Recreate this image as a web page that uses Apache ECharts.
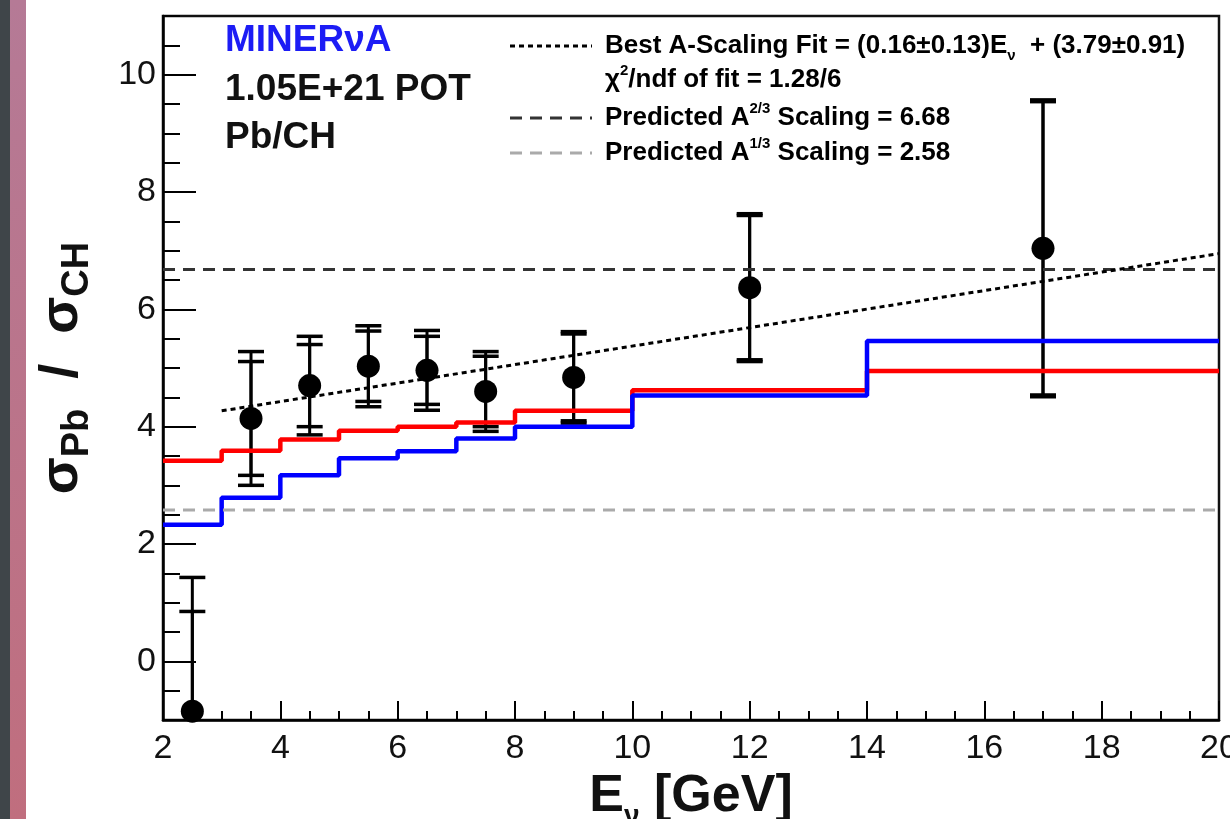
<!DOCTYPE html>
<html>
<head>
<meta charset="utf-8">
<title>Pb/CH ratio</title>
<script src="https://cdn.jsdelivr.net/npm/echarts@6/dist/echarts.min.js"></script>
<style>
  html, body { margin: 0; padding: 0; background: #fff; }
  #chart { width: 1230px; height: 819px; }
</style>
</head>
<body>
<div id="chart"></div>
<script>
// bin edges (GeV) of the two step predictions
const binEdges = [2, 3, 4, 5, 6, 7, 8, 10, 14, 20]
const redPrediction = [3.42, 3.59, 3.78, 3.93, 4.0, 4.07, 4.27, 4.62, 4.95]
const bluePrediction = [2.33, 2.79, 3.17, 3.46, 3.58, 3.8, 4.0, 4.53, 5.46]

// measured ratio
const dataEnergy = [2.5, 3.5, 4.5, 5.5, 6.5, 7.5, 9, 12, 17]
const dataRatio = [-0.85, 4.14, 4.7, 5.03, 4.96, 4.6, 4.84, 6.37, 7.04]
const statError = [1.7, 0.97, 0.7, 0.6, 0.58, 0.6, 0.74, 1.23, 2.5]
const totalError = [2.28, 1.14, 0.84, 0.69, 0.68, 0.68, 0.78, 1.26, 2.53]

// fit end points and predicted scalings
const fitEnergy = [3, 20]
const fitRatio = [4.27, 6.95]
const scaling23 = 6.68
const scaling13 = 2.58

// axes
const xRange = [2, 20]
const yRange = [-1, 11]
const yTickLabels = [0, 2, 4, 6, 8, 10]

const font = '"Liberation Sans", Arial, Helvetica, sans-serif'

function stepData(values) {
  return binEdges.map((e, i) => [e, values[Math.min(i, values.length - 1)]])
}

function errorBar(params, api) {
  const x = api.value(0)
  const y = api.value(1)
  const e = api.value(2)
  const top = api.coord([x, y + e])
  const bot = api.coord([x, y - e])
  const half = 13
  const style = { stroke: '#000', lineWidth: 3 }
  const cap = { stroke: '#000', lineWidth: 3.5 }
  return {
    type: 'group',
    children: [
      { type: 'line', shape: { x1: top[0], y1: top[1], x2: bot[0], y2: bot[1] }, style },
      { type: 'line', shape: { x1: top[0] - half, y1: top[1], x2: top[0] + half, y2: top[1] }, style: cap },
      { type: 'line', shape: { x1: bot[0] - half, y1: bot[1], x2: bot[0] + half, y2: bot[1] }, style: cap }
    ]
  }
}

const legendRich = {
  t: { fontFamily: font, fontWeight: 'bold', fontSize: 26, lineHeight: 34, color: '#111' },
  sub: { fontFamily: font, fontWeight: 'bold', fontSize: 15, lineHeight: 15, verticalAlign: 'bottom', color: '#111' },
  sup: { fontFamily: font, fontWeight: 'bold', fontSize: 15, lineHeight: 15, verticalAlign: 'top', color: '#111' }
}

const myChart = echarts.init(document.getElementById('chart'))
const option = {
  animation: false,
  backgroundColor: '#fff',
  grid: {
    left: 163,
    right: 11,
    top: 16,
    bottom: 99,
    show: true,
    borderColor: '#111',
    borderWidth: 2.5,
    outerBoundsMode: 'none'
  },
  xAxis: {
    type: 'value',
    min: xRange[0],
    max: xRange[1],
    interval: 2,
    axisLine: { onZero: false, lineStyle: { color: '#000', width: 2.5 } },
    axisTick: { inside: true, length: 19, lineStyle: { color: '#000', width: 2 } },
    minorTick: { show: true, splitNumber: 4, length: 9, lineStyle: { color: '#000', width: 2 } },
    axisLabel: { fontFamily: font, fontSize: 34, color: '#111', margin: 12 },
    splitLine: { show: false },
    name: '{m|E}{s|ν}{m| [GeV]}',
    nameLocation: 'middle',
    nameGap: 27,
    nameTextStyle: {
      rich: {
        m: { fontFamily: font, fontWeight: 'bold', fontSize: 52, lineHeight: 66, color: '#111' },
        s: { fontFamily: font, fontWeight: 'bold', fontSize: 28, lineHeight: 28, verticalAlign: 'bottom', color: '#111' }
      }
    }
  },
  yAxis: [
    {
      type: 'value',
      min: yRange[0],
      max: yRange[1],
      position: 'left',
      axisLine: { show: true, onZero: false, lineStyle: { color: '#000', width: 2.5 } },
      axisTick: { inside: true, length: 33, customValues: yTickLabels, lineStyle: { color: '#000', width: 2 } },
      axisLabel: { customValues: yTickLabels, fontFamily: font, fontSize: 34, color: '#111', margin: 7 },
      splitLine: { show: false },
      name: '{m|σ}{s|Pb}{m|  /  σ}{s|CH}',
      nameLocation: 'middle',
      nameRotate: 90,
      nameGap: 66,
      nameTextStyle: {
        rich: {
          m: { fontFamily: font, fontWeight: 'bold', fontSize: 54, lineHeight: 70, color: '#111' },
          s: { fontFamily: font, fontWeight: 'bold', fontSize: 38, lineHeight: 38, verticalAlign: 'bottom', color: '#111' }
        }
      }
    },
    {
      type: 'value',
      min: yRange[0],
      max: yRange[1],
      interval: 0.5,
      position: 'left',
      axisLine: { show: false },
      axisTick: { inside: true, length: 17, lineStyle: { color: '#000', width: 2 } },
      axisLabel: { show: false },
      splitLine: { show: false }
    }
  ],
  series: [
    {
      name: 'red',
      type: 'line',
      step: 'end',
      symbol: 'none',
      data: stepData(redPrediction),
      lineStyle: { color: '#ff0000', width: 4.5 }
    },
    {
      name: 'blue',
      type: 'line',
      step: 'end',
      symbol: 'none',
      data: stepData(bluePrediction),
      lineStyle: { color: '#0000ff', width: 4.5 }
    },
    {
      name: 'A23',
      type: 'line',
      symbol: 'none',
      data: [[xRange[0], scaling23], [xRange[1], scaling23]],
      lineStyle: { color: '#333', width: 3, type: [12, 8] }
    },
    {
      name: 'A13',
      type: 'line',
      symbol: 'none',
      data: [[xRange[0], scaling13], [xRange[1], scaling13]],
      lineStyle: { color: '#aaa', width: 3, type: [12, 8] }
    },
    {
      name: 'fit',
      type: 'line',
      symbol: 'none',
      data: fitEnergy.map((e, i) => [e, fitRatio[i]]),
      lineStyle: { color: '#000', width: 3, type: [5, 4] }
    },
    {
      name: 'total',
      type: 'custom',
      clip: true,
      renderItem: errorBar,
      encode: { x: 0, y: 1 },
      data: dataEnergy.map((e, i) => [e, dataRatio[i], totalError[i]])
    },
    {
      name: 'stat',
      type: 'custom',
      clip: true,
      renderItem: errorBar,
      encode: { x: 0, y: 1 },
      data: dataEnergy.map((e, i) => [e, dataRatio[i], statError[i]])
    },
    {
      name: 'data',
      type: 'scatter',
      symbolSize: 23,
      itemStyle: { color: '#000', opacity: 1 },
      data: dataEnergy.map((e, i) => [e, dataRatio[i]])
    }
  ],
  graphic: [
    // page edge strips
    { type: 'rect', shape: { x: 0, y: 0, width: 10, height: 819 }, style: { fill: '#3f4549' } },
    {
      type: 'rect',
      shape: { x: 10, y: 0, width: 16, height: 819 },
      style: {
        fill: new echarts.graphic.LinearGradient(0, 0, 0, 1, [
          { offset: 0, color: '#b57a96' },
          { offset: 1, color: '#c06e7e' }
        ])
      }
    },
    // labels in the top left
    { type: 'text', x: 225, y: 41, style: { text: 'MINERνA', fontFamily: font, fontWeight: 'bold', fontSize: 37, fill: '#1c1cf5', verticalAlign: 'middle' } },
    { type: 'text', x: 225, y: 90, style: { text: '1.05E+21 POT', fontFamily: font, fontWeight: 'bold', fontSize: 37, fill: '#111', verticalAlign: 'middle' } },
    { type: 'text', x: 225, y: 138, style: { text: 'Pb/CH', fontFamily: font, fontWeight: 'bold', fontSize: 37, fill: '#111', verticalAlign: 'middle' } },
    // legend
    { type: 'line', shape: { x1: 510, y1: 46, x2: 592, y2: 46 }, style: { stroke: '#000', lineWidth: 3, lineDash: [5, 4] } },
    { type: 'line', shape: { x1: 510, y1: 118, x2: 592, y2: 118 }, style: { stroke: '#333', lineWidth: 3, lineDash: [12, 8] } },
    { type: 'line', shape: { x1: 510, y1: 153, x2: 592, y2: 153 }, style: { stroke: '#aaa', lineWidth: 3, lineDash: [12, 8] } },
    { type: 'text', x: 605, y: 29, style: { text: '{t|Best A-Scaling Fit = (0.16±0.13)E}{sub|ν}{t|  + (3.79±0.91)}', rich: legendRich } },
    { type: 'text', x: 605, y: 63, style: { text: '{t|χ}{sup|2}{t|/ndf of fit = 1.28/6}', rich: legendRich } },
    { type: 'text', x: 605, y: 101, style: { text: '{t|Predicted A}{sup|2/3}{t| Scaling = 6.68}', rich: legendRich } },
    { type: 'text', x: 605, y: 136, style: { text: '{t|Predicted A}{sup|1/3}{t| Scaling = 2.58}', rich: legendRich } }
  ]
}
option && myChart.setOption(option)
</script>
</body>
</html>
